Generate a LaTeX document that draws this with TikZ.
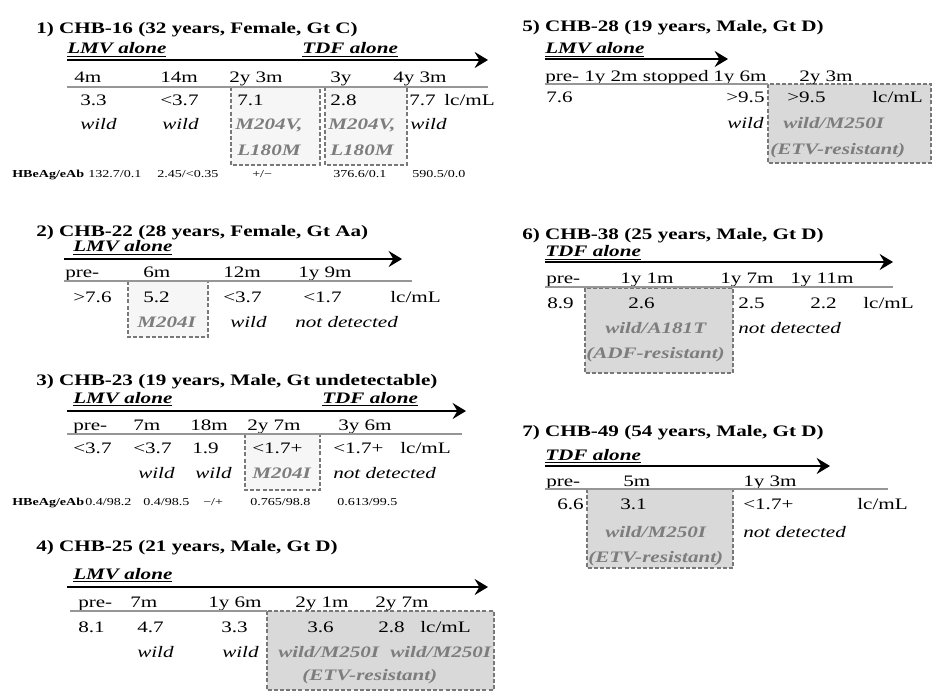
\documentclass[tikz,border=0pt]{standalone}
\usepackage{fontspec}
\setmainfont{Liberation Serif}[FakeStretch=1.32]
\usepackage{xcolor}
\definecolor{mutgray}{RGB}{125,125,125}
\definecolor{boxgray}{RGB}{120,120,120}
\definecolor{axisgray}{RGB}{150,150,150}
\definecolor{boxfill}{RGB}{217,217,217}
\definecolor{boxpale}{RGB}{246,246,246}
\usetikzlibrary{arrows.meta,backgrounds}
\tikzset{
  ptitle/.style={anchor=base west,inner sep=0pt,font=\bfseries},
  regimen/.style={anchor=base west,inner sep=0pt,font=\bfseries\itshape},
  tlabel/.style={anchor=base west,inner sep=0pt},
  vload/.style={anchor=base west,inner sep=0pt},
  strain/.style={anchor=base west,inner sep=0pt,font=\itshape},
  mutant/.style={anchor=base west,inner sep=0pt,font=\bfseries\itshape,text=mutgray},
  hbe/.style={anchor=base west,inner sep=0pt,font=\fontsize{8}{10}\selectfont},
  hbehead/.style={hbe,font=\fontsize{8}{10}\selectfont\bfseries},
  timeline/.style={-{Stealth[length=10pt,width=12pt,inset=3.5pt]},line width=2pt},
  gridline/.style={draw=axisgray,line width=1.3pt},
  mutbox/.style={draw=boxgray,line width=1.3pt,dash pattern=on 3pt off 1.6pt},
}
\begin{document}
\fontsize{12}{14}\selectfont
\begin{tikzpicture}[x=0.75pt,y=-0.75pt]
\useasboundingbox (0,0) rectangle (933,692);
% 1) CHB-16
\node[ptitle] (p1title) at (36,34) {1) CHB-16 (32 years, Female, Gt C)};
\node[regimen] (p1lmv) at (67,54) {\underline{LMV alone}};
\node[regimen] (p1tdf) at (302,54) {\underline{TDF alone}};
\coordinate (p1s) at (67,60);
\coordinate (p1e) at (488,60);
\draw[timeline] (p1s) -- (p1e);
\node[tlabel] (p1t1) at (74,83) {4m};
\node[tlabel] (p1t2) at (160,83) {14m};
\node[tlabel] (p1t3) at (229,83) {2y 3m};
\node[tlabel] (p1t4) at (330,83) {3y};
\node[tlabel] (p1t5) at (393,83) {4y 3m};
\coordinate (p1gs) at (67,87);
\coordinate (p1ge) at (488,87);
\draw[gridline] (p1gs) -- (p1ge);
\node[vload] (p1v1) at (80,106) {3.3};
\node[vload] (p1v2) at (160,106) {<3.7};
\node[vload] (p1v3) at (237,106) {7.1};
\node[vload] (p1v4) at (330,106) {2.8};
\node[vload] (p1v5) at (409,106) {7.7};
\node[vload] (p1unit) at (444,106) {lc/mL};
\node[strain] (p1w1) at (80,130) {wild};
\node[strain] (p1w2) at (162,130) {wild};
\node[mutant] (p1m1) at (235,130) {M204V,};
\node[mutant] (p1m2) at (328,130) {M204V,};
\node[strain] (p1w5) at (410,130) {wild};
\node[mutant] (p1m3) at (237,156) {L180M};
\node[mutant] (p1m4) at (330,156) {L180M};
\node[hbehead] (p1h0) at (12,178) {HBeAg/eAb};
\node[hbe] (p1h1) at (88,178) {132.7/0.1};
\node[hbe] (p1h2) at (157,178) {2.45/<0.35};
\node[hbe] (p1h3) at (252,178) {+/−};
\node[hbe] (p1h4) at (333,178) {376.6/0.1};
\node[hbe] (p1h5) at (412,178) {590.5/0.0};
% 2) CHB-22
\node[ptitle] (p2title) at (36,236) {2) CHB-22 (28 years, Female, Gt Aa)};
\node[regimen] (p2lmv) at (73,252) {\underline{LMV alone}};
\coordinate (p2s) at (64,259);
\coordinate (p2e) at (402,259);
\draw[timeline] (p2s) -- (p2e);
\node[tlabel] (p2t1) at (65,277) {pre-};
\node[tlabel] (p2t2) at (143,277) {6m};
\node[tlabel] (p2t3) at (223,277) {12m};
\node[tlabel] (p2t4) at (298,277) {1y 9m};
\coordinate (p2gs) at (64,281);
\coordinate (p2ge) at (412,281);
\draw[gridline] (p2gs) -- (p2ge);
\node[vload] (p2v1) at (73,302) {>7.6};
\node[vload] (p2v2) at (143,302) {5.2};
\node[vload] (p2v3) at (223,302) {<3.7};
\node[vload] (p2v4) at (303,302) {<1.7};
\node[vload] (p2unit) at (390,302) {lc/mL};
\node[mutant] (p2m1) at (137,327) {M204I};
\node[strain] (p2w3) at (230,327) {wild};
\node[strain] (p2w4) at (295,327) {not detected};
% 3) CHB-23
\node[ptitle] (p3title) at (36,385) {3) CHB-23 (19 years, Male, Gt undetectable)};
\node[regimen] (p3lmv) at (73,403) {\underline{LMV alone}};
\node[regimen] (p3tdf) at (322,403) {\underline{TDF alone}};
\coordinate (p3s) at (67,411);
\coordinate (p3e) at (466,411);
\draw[timeline] (p3s) -- (p3e);
\node[tlabel] (p3t1) at (73,430) {pre-};
\node[tlabel] (p3t2) at (133,430) {7m};
\node[tlabel] (p3t3) at (190,430) {18m};
\node[tlabel] (p3t4) at (247,430) {2y 7m};
\node[tlabel] (p3t5) at (338,430) {3y 6m};
\coordinate (p3gs) at (67,434);
\coordinate (p3ge) at (462,434);
\draw[gridline] (p3gs) -- (p3ge);
\node[vload] (p3v1) at (73,453) {<3.7};
\node[vload] (p3v2) at (133,453) {<3.7};
\node[vload] (p3v3) at (192,453) {1.9};
\node[vload] (p3v4) at (252,453) {<1.7+};
\node[vload] (p3v5) at (333,453) {<1.7+};
\node[vload] (p3unit) at (400,453) {lc/mL};
\node[strain] (p3w2) at (138,478) {wild};
\node[strain] (p3w3) at (195,478) {wild};
\node[mutant] (p3m1) at (252,478) {M204I};
\node[strain] (p3w5) at (333,478) {not detected};
\node[hbehead] (p3h0) at (12,505) {HBeAg/eAb};
\node[hbe] (p3h1) at (85,505) {0.4/98.2};
\node[hbe] (p3h2) at (143,505) {0.4/98.5};
\node[hbe] (p3h3) at (203,505) {−/+};
\node[hbe] (p3h4) at (250,505) {0.765/98.8};
\node[hbe] (p3h5) at (337,505) {0.613/99.5};
% 4) CHB-25
\node[ptitle] (p4title) at (36,551) {4) CHB-25 (21 years, Male, Gt D)};
\node[regimen] (p4lmv) at (73,579) {\underline{LMV alone}};
\coordinate (p4s) at (67,587);
\coordinate (p4e) at (488,587);
\draw[timeline] (p4s) -- (p4e);
\node[tlabel] (p4t1) at (78,607) {pre-};
\node[tlabel] (p4t2) at (130,607) {7m};
\node[tlabel] (p4t3) at (208,607) {1y 6m};
\node[tlabel] (p4t4) at (295,607) {2y 1m};
\node[tlabel] (p4t5) at (375,607) {2y 7m};
\coordinate (p4gs) at (70,611);
\coordinate (p4ge) at (267,611);
\draw[gridline] (p4gs) -- (p4ge);
\node[vload] (p4v1) at (78,632) {8.1};
\node[vload] (p4v2) at (137,632) {4.7};
\node[vload] (p4v3) at (221,632) {3.3};
\node[vload] (p4v4) at (307,632) {3.6};
\node[vload] (p4v5) at (378,632) {2.8};
\node[vload] (p4unit) at (420,632) {lc/mL};
\node[strain] (p4w2) at (137,657) {wild};
\node[strain] (p4w3) at (222,657) {wild};
\node[mutant] (p4m1) at (278,657) {wild/M250I};
\node[mutant] (p4m2) at (390,657) {wild/M250I};
\node[mutant] (p4m3) at (302,680) {(ETV-resistant)};
% 5) CHB-28
\node[ptitle] (p5title) at (522,32) {5) CHB-28 (19 years, Male, Gt D)};
\node[regimen] (p5lmv) at (545,54) {\underline{LMV alone}};
\coordinate (p5s) at (545,59);
\coordinate (p5e) at (728,59);
\draw[timeline] (p5s) -- (p5e);
\node[tlabel] (p5t1) at (545,82) {pre-};
\node[tlabel] (p5t2) at (584,82) {1y 2m stopped};
\node[tlabel] (p5t3) at (713,82) {1y 6m};
\node[tlabel] (p5t4) at (799,82) {2y 3m};
\coordinate (p5gs) at (545,84);
\coordinate (p5ge) at (768,84);
\draw[gridline] (p5gs) -- (p5ge);
\node[vload] (p5v1) at (546,103) {7.6};
\node[vload] (p5v2) at (726,103) {>9.5};
\node[vload] (p5v3) at (787,103) {>9.5};
\node[vload] (p5unit) at (872,103) {lc/mL};
\node[strain] (p5w2) at (727,128) {wild};
\node[mutant] (p5m1) at (783,128) {wild/M250I};
\node[mutant] (p5m2) at (770,155) {(ETV-resistant)};
% 6) CHB-38
\node[ptitle] (p6title) at (522,239) {6) CHB-38 (25 years, Male, Gt D)};
\node[regimen] (p6tdf) at (545,257) {\underline{TDF alone}};
\coordinate (p6s) at (545,262);
\coordinate (p6e) at (893,262);
\draw[timeline] (p6s) -- (p6e);
\node[tlabel] (p6t1) at (546,283) {pre-};
\node[tlabel] (p6t2) at (620,283) {1y 1m};
\node[tlabel] (p6t3) at (720,283) {1y 7m};
\node[tlabel] (p6t4) at (790,283) {1y 11m};
\coordinate (p6gs) at (545,287);
\coordinate (p6ge) at (893,287);
\draw[gridline] (p6gs) -- (p6ge);
\node[vload] (p6v1) at (547,308) {8.9};
\node[vload] (p6v2) at (628,308) {2.6};
\node[vload] (p6v3) at (738,308) {2.5};
\node[vload] (p6v4) at (810,308) {2.2};
\node[vload] (p6unit) at (863,308) {lc/mL};
\node[mutant] (p6m1) at (605,333) {wild/A181T};
\node[strain] (p6w3) at (738,333) {not detected};
\node[mutant] (p6m2) at (586,358) {(ADF-resistant)};
% 7) CHB-49
\node[ptitle] (p7title) at (522,436) {7) CHB-49 (54 years, Male, Gt D)};
\node[regimen] (p7tdf) at (545,460) {\underline{TDF alone}};
\coordinate (p7s) at (545,466);
\coordinate (p7e) at (830,466);
\draw[timeline] (p7s) -- (p7e);
\node[tlabel] (p7t1) at (546,486) {pre-};
\node[tlabel] (p7t2) at (623,486) {5m};
\node[tlabel] (p7t3) at (743,486) {1y 3m};
\coordinate (p7gs) at (545,489);
\coordinate (p7ge) at (888,489);
\draw[gridline] (p7gs) -- (p7ge);
\node[vload] (p7v1) at (557,509) {6.6};
\node[vload] (p7v2) at (620,509) {3.1};
\node[vload] (p7v3) at (743,509) {<1.7+};
\node[vload] (p7unit) at (857,509) {lc/mL};
\node[mutant] (p7m1) at (605,537) {wild/M250I};
\node[strain] (p7w3) at (743,537) {not detected};
\node[mutant] (p7m2) at (588,562) {(ETV-resistant)};
% mutation boxes
\begin{scope}[on background layer]
\draw[mutbox,fill=boxpale] (231,87) rectangle (320,165);
\draw[mutbox,fill=boxpale] (325,87) rectangle (407,165);
\draw[mutbox,fill=boxpale] (128,281) rectangle (208,337);
\draw[mutbox,fill=boxpale] (245,434) rectangle (320,490);
\draw[mutbox,fill=boxfill] (267,611) rectangle (494,690);
\draw[mutbox,fill=boxfill] (768,84) rectangle (931,163);
\draw[mutbox,fill=boxfill] (585,288) rectangle (733,373);
\draw[mutbox,fill=boxfill] (587,489) rectangle (733,568);
\end{scope}
\end{tikzpicture}
\end{document}
